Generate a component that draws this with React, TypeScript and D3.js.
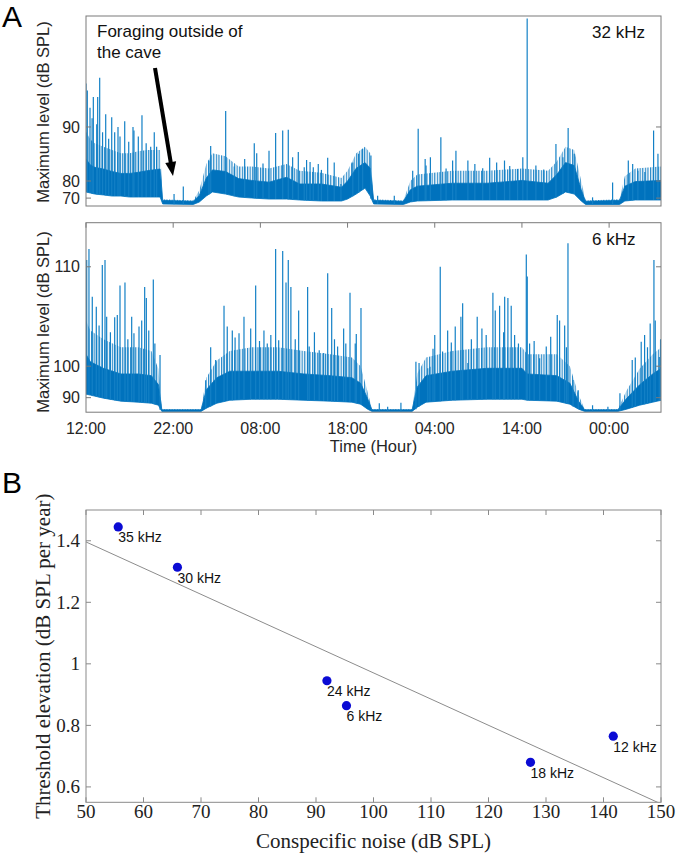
import React from "react";
import * as d3 from "d3";

// ---------- Panel A data (levels in dB SPL, time in hours since 12:00) ----------
const TIME_TICKS = [0, 10, 20, 30, 40, 50, 60];
const TIME_LABELS = ["12:00", "22:00", "08:00", "18:00", "04:00", "14:00", "00:00"];

const TOP_TICKS = [70, 80, 90];
const BOT_TICKS = [90, 100, 110];

// 32 kHz: dense core (floor / ceil) and fuzzy upper envelope
const topT = [0, 0.5, 1, 2, 3, 4, 5, 6, 7, 8.5, 8.8, 12.3, 13, 13.8, 14.5, 16, 17.5, 19, 21, 23, 24.5, 27, 29.3, 30, 31, 32, 32.6, 33, 36.4, 37.2, 38, 42, 46, 50, 53, 54, 55, 56, 56.8, 57.3, 61.2, 61.8, 63, 66];
const topFloor = [75.0, 74.3, 73.6, 72.9, 72.0, 72.0, 71.1, 71.1, 71.1, 71.1, 58.1, 55.6, 64.1, 72.0, 75.0, 73.6, 71.1, 70.1, 68.9, 68.9, 67.6, 66.0, 66.0, 68.9, 73.6, 77.1, 72.0, 58.1, 55.6, 64.1, 66.0, 67.6, 67.6, 67.6, 67.6, 71.1, 75.0, 73.6, 66.0, 55.6, 55.6, 66.0, 67.6, 67.6];
const topCeil = [85.5, 84.3, 83.8, 83.4, 82.8, 82.3, 82.3, 82.6, 83.0, 83.4, 67.0, 65.5, 72.5, 81.0, 83.2, 82.8, 80.8, 80.2, 79.6, 81.2, 78.9, 78.9, 77.5, 80.0, 83.6, 84.8, 83.6, 67.0, 65.5, 76.2, 78.0, 79.2, 79.2, 80.2, 79.2, 82.0, 84.8, 84.2, 76.2, 65.5, 67.0, 78.0, 79.8, 80.2];
const topFuzz = [89.5, 88.5, 88.0, 87.5, 87.0, 86.5, 86.5, 86.8, 87.0, 87.0, 68.5, 67.0, 76.0, 84.5, 86.5, 86.0, 84.0, 84.0, 83.5, 84.5, 83.0, 82.5, 81.0, 83.0, 86.5, 87.5, 86.5, 68.5, 67.0, 80.0, 82.0, 83.0, 83.0, 83.5, 83.0, 85.0, 87.5, 87.0, 80.0, 67.0, 68.5, 81.5, 83.5, 84.0];
// 32 kHz peaks
const topSpikeT = [0, 0.15, 0.46, 0.84, 1.23, 1.34, 1.57, 2.26, 2.95, 3.29, 3.67, 4.44, 5.39, 5.5, 6.42, 7.42, 7.83, 10.1, 11.16, 14.1, 14.3, 16.02, 19.3, 19.58, 20.99, 21.75, 22.56, 23.2, 23.7, 24.35, 25.03, 25.3, 26.07, 26.64, 27.72, 28.47, 29.24, 31.27, 31.73, 32.68, 33.45, 35.36, 37.47, 38.1, 38.9, 39.5, 40.7, 42.05, 42.43, 43.8, 46.3, 48.0, 48.6, 49.5, 50.1, 50.6, 53.9, 54.7, 55.3, 56.0, 58.1, 60.4, 62.2, 62.7, 63.3, 64.1, 65.1, 65.6,
  0.7, 1.9, 2.6, 3.9, 4.9, 6.0, 6.9, 8.1, 17.0, 18.2, 20.3, 25.7, 27.0, 30.6, 39.0, 41.3, 44.6, 45.5, 47.1, 51.6, 52.5];
const topSpikeDb = [93.8, 93.3, 91.9, 92.8, 90.3, 92.8, 94.2, 91.3, 91.0, 89.4, 90.0, 90.6, 90.0, 89.6, 91.2, 87.5, 89.4, 73.6, 77.8, 85.2, 87.6, 91.6, 88.0, 86.5, 86.9, 89.3, 89.6, 89.7, 85.8, 86.7, 83.8, 85.3, 83.8, 84.5, 85.7, 84.8, 78.9, 86.4, 87.2, 86.1, 72.3, 72.3, 83.0, 89.8, 85.5, 85.8, 88.8, 85.2, 86.9, 85.2, 85.7, 85.2, 84.1, 83.4, 85.8, 97.5, 87.9, 85.8, 89.9, 86.4, 70.8, 79.5, 85.2, 84.5, 83.0, 82.7, 89.6, 86.4,
  90.9, 89.4, 88.6, 88.9, 88.2, 88.9, 88.0, 87.5, 84.0, 85.5, 84.6, 84.9, 83.2, 84.8, 84.2, 83.5, 84.5, 83.6, 84.8, 84.2, 83.3];

// 6 kHz: dense core and fuzzy upper envelope
const botT = [0, 0.5, 2, 4, 6, 7.5, 8.3, 8.7, 13.2, 13.8, 15, 16.5, 19, 22, 25, 28, 30.5, 31.5, 32.3, 32.8, 37.4, 38, 39, 42, 46, 50, 50.6, 54, 55.5, 56.5, 57.2, 61, 62, 63.5, 65, 66];
const botFloor = [91.9, 91.4, 89.7, 87.6, 86.75, 85.8, 83.65, 64.8, 64.8, 78.8, 85.8, 88.3, 89.0, 89.0, 88.3, 87.6, 86.75, 84.8, 76.3, 64.8, 64.8, 80.7, 86.75, 88.3, 89.0, 89.0, 88.3, 87.6, 84.8, 76.3, 64.8, 64.8, 76.3, 83.65, 86.75, 88.3];
const botCeil = [102.0, 100.8, 99.6, 98.4, 98.4, 98.0, 95.6, 74.2, 74.2, 93.8, 97.5, 99.0, 99.0, 99.0, 98.4, 98.0, 97.5, 96.0, 89.5, 74.2, 74.2, 94.8, 98.0, 99.0, 99.6, 99.6, 98.4, 98.0, 96.0, 87.5, 74.2, 74.2, 89.5, 95.5, 98.4, 99.6];
const botFuzz = [106.0, 105.0, 104.0, 103.0, 103.0, 102.5, 99.5, 76.0, 76.0, 97.5, 101.0, 102.5, 103.0, 103.0, 102.5, 102.0, 101.5, 100.0, 93.0, 76.0, 76.0, 98.5, 101.5, 102.5, 103.0, 103.0, 102.0, 102.0, 100.0, 91.5, 76.0, 76.0, 93.5, 99.5, 102.0, 103.0];
// 6 kHz peaks
const botSpikeT = [0.08, 0.34, 0.72, 1.18, 1.87, 2.18, 2.37, 3.29, 3.59, 3.9, 4.47, 5.24, 5.5, 6.08, 6.39, 6.73, 6.92, 7.72, 8.49, 13.73, 14.87, 15.83, 16.2, 16.78, 17.55, 18.12, 18.89, 19.46, 20.41, 20.79, 21.75, 22.1, 22.56, 22.94, 23.2, 23.5, 24.39, 25.42, 25.6, 26.75, 27.26, 27.72, 28.18, 28.86, 29.55, 29.8, 30.28, 30.88, 31.54, 33.64, 34.6, 36.12, 37.84, 38.2, 39.2, 39.45, 40.0, 40.63, 40.9, 41.48, 42.35, 43.0, 43.2, 43.8, 44.87, 45.41, 46.67, 46.94, 47.44, 48.02, 48.39, 48.77, 49.16, 50.5, 50.61, 50.88, 52.03, 52.79, 54.05, 54.32, 54.9, 55.28, 55.86, 56.46, 58.1, 59.86, 61.24, 62.65, 63.68, 64.07, 64.71, 65.14, 65.29, 65.75,
  1.5, 2.8, 4.8, 7.2, 7.9, 14.3, 17.1, 19.9, 21.2, 24.0, 26.2, 28.5, 31.0, 39.8, 41.9, 44.2, 45.9, 47.9, 49.6, 51.4, 53.3, 55.1, 63.0, 64.4, 65.9];
const botSpikeDb = [110.4, 111.0, 108.0, 107.2, 110.1, 110.4, 106.35, 106.3, 106.5, 108.8, 109.0, 106.35, 104.7, 105.4, 106.0, 108.7, 107.9, 109.2, 101.9, 96.85, 101.1, 107.3, 105.4, 105.0, 104.7, 106.35, 105.2, 108.8, 105.0, 103.5, 111.0, 103.9, 110.9, 109.0, 110.4, 108.7, 106.9, 108.7, 103.1, 102.6, 102.2, 109.6, 107.1, 103.1, 105.2, 103.5, 108.3, 103.5, 107.1, 85.8, 81.6, 86.3, 100.8, 100.6, 99.6, 99.9, 104.5, 110.0, 102.4, 105.0, 105.4, 106.35, 107.5, 100.6, 106.35, 105.2, 108.3, 106.9, 107.3, 108.0, 107.9, 107.3, 104.5, 110.7, 109.4, 103.5, 101.4, 103.1, 106.5, 106.0, 105.5, 111.3, 96.9, 93.6, 83.65, 81.6, 92.3, 101.1, 103.7, 104.5, 105.7, 110.4, 106.0, 101.6,
  105.5, 104.8, 104.0, 105.0, 103.5, 103.0, 104.2, 103.8, 104.5, 104.0, 104.8, 104.0, 104.6, 102.8, 103.6, 104.0, 104.5, 104.8, 103.5, 103.8, 104.3, 103.0, 101.5, 103.0, 104.0];

// ---------- Panel B data ----------
const noiseDb = [55.6, 65.9, 91.9, 95.3, 127.3, 141.7];
const elevation = [1.445, 1.314, 0.945, 0.864, 0.68, 0.765];
const freqLabels = ["35 kHz", "30 kHz", "24 kHz", "6 kHz", "18 kHz", "12 kHz"];
const B_X_TICKS = [50, 60, 70, 80, 90, 100, 110, 120, 130, 140, 150];
const B_Y_TICKS = [0.6, 0.8, 1, 1.2, 1.4];

const SANS = "'Liberation Sans', Arial, Helvetica, sans-serif";
const SERIF = "'Liberation Serif', 'Times New Roman', Times, serif";
const LINE = "#0072BD";
const FRAME = "#7a7a7a";

const dbToP = (db: number) => Math.pow(10, db / 20);

const L = 86, R = 661;
const xTime = d3.scaleLinear().domain([0, 65.95]).range([L, R]);

type PanelProps = {
  id: string; top: number; bottom: number; maxDb: number;
  T: number[]; floor: number[]; ceil: number[]; fuzz: number[];
  spT: number[]; spDb: number[]; yTicks: number[];
  topTicks: boolean; showX: boolean; tag: string; tagY: number; titleY: number;
};

function LevelPanel(p: PanelProps) {
  const y = d3.scaleLinear().domain([0, dbToP(p.maxDb)]).range([p.bottom, p.top]);
  const idx = d3.range(p.T.length);
  const core = d3.area<number>()
    .x(i => xTime(p.T[i]))
    .y0(i => y(dbToP(p.floor[i])))
    .y1(i => y(dbToP(p.ceil[i])));
  const fuzz = d3.area<number>()
    .x(i => xTime(p.T[i]))
    .y0(i => y(dbToP(p.ceil[i])) + 1)
    .y1(i => y(dbToP(p.fuzz[i])));
  const floorAt = d3.scaleLinear().domain(p.T).range(p.floor).clamp(true);
  const tl = 5;
  return (
    <g>
      <defs>
        <clipPath id={p.id}>
          <rect x={L} y={p.top} width={R - L} height={p.bottom - p.top} />
        </clipPath>
        <pattern id={p.id + "-hatch"} width={2.6} height={6} patternUnits="userSpaceOnUse">
          <rect x={0} y={0} width={1.2} height={6} fill={LINE} />
        </pattern>
      </defs>
      <g clipPath={`url(#${p.id})`}>
        <path d={fuzz(idx) || ""} fill={`url(#${p.id}-hatch)`} opacity={0.85} />
        <path d={core(idx) || ""} fill={LINE} stroke={LINE} strokeWidth={0.8} />
        {p.spT.map((t, i) => (
          <line key={i} x1={xTime(t)} x2={xTime(t)}
            y1={y(dbToP(floorAt(t)))} y2={y(dbToP(p.spDb[i]))}
            stroke="#1380c6" strokeWidth={1.2} />
        ))}
      </g>
      <rect x={L} y={p.top} width={R - L} height={p.bottom - p.top} fill="none" stroke={FRAME} strokeWidth={1} />
      {p.yTicks.map(v => (
        <g key={v}>
          <line x1={L} x2={L + tl} y1={y(dbToP(v))} y2={y(dbToP(v))} stroke={FRAME} />
          <line x1={R - tl} x2={R} y1={y(dbToP(v))} y2={y(dbToP(v))} stroke={FRAME} />
          <text x={80} y={y(dbToP(v))} dy="0.35em" textAnchor="end" fontFamily={SANS} fontSize={16} fill="#262626">{v}</text>
        </g>
      ))}
      {TIME_TICKS.map((t, i) => (
        <g key={t}>
          {p.topTicks && <line x1={xTime(t)} x2={xTime(t)} y1={p.top} y2={p.top + tl} stroke={FRAME} />}
          {p.showX && (
            <text x={xTime(t)} y={434} textAnchor="middle" fontFamily={SANS} fontSize={16} fill="#262626">{TIME_LABELS[i]}</text>
          )}
        </g>
      ))}
      <text transform={`translate(49,${p.titleY}) rotate(-90)`} textAnchor="middle" fontFamily={SANS} fontSize={16.5} fill="#262626">
        Maximum level (dB SPL)
      </text>
      <text x={592} y={p.tagY} fontFamily={SANS} fontSize={17} fill="#111">{p.tag}</text>
    </g>
  );
}

function Arrow() {
  const x0 = 155, y0 = 68, x1 = 173, y1 = 176;
  const len = Math.hypot(x1 - x0, y1 - y0);
  const ux = (x1 - x0) / len, uy = (y1 - y0) / len;
  const hl = 14, hw = 5.5;
  const bx = x1 - ux * hl, by = y1 - uy * hl;
  const pts = [[x1, y1], [bx + uy * hw, by - ux * hw], [bx - uy * hw, by + ux * hw]];
  return (
    <g>
      <line x1={x0} y1={y0} x2={bx + ux * 2} y2={by + uy * 2} stroke="#000" strokeWidth={4} />
      <polygon points={pts.map(q => q.join(",")).join(" ")} fill="#000" />
    </g>
  );
}

function PanelB() {
  const x = d3.scaleLinear().domain([50, 150]).range([L, R]);
  const y = d3.scaleLinear().domain([0.55, 1.5]).range([802.3, 510]);
  const top = 510, bottom = 802.3;
  const mx = d3.mean(noiseDb)!, my = d3.mean(elevation)!;
  const sxy = d3.sum(noiseDb.map((v, i) => (v - mx) * (elevation[i] - my)));
  const sxx = d3.sum(noiseDb.map(v => (v - mx) ** 2));
  const slope = sxy / sxx, icpt = my - slope * mx;
  const fit = (v: number) => icpt + slope * v;
  const tl = 5;
  return (
    <g>
      <defs>
        <clipPath id="clipB"><rect x={L} y={top} width={R - L} height={bottom - top} /></clipPath>
      </defs>
      <rect x={L} y={top} width={R - L} height={bottom - top} fill="none" stroke="#8a8a8a" strokeWidth={1} />
      <line clipPath="url(#clipB)" x1={x(50)} y1={y(fit(50))} x2={x(150)} y2={y(fit(150))} stroke="#8c8c8c" strokeWidth={1} />
      {B_X_TICKS.map(v => (
        <g key={v}>
          <line x1={x(v)} x2={x(v)} y1={bottom} y2={bottom - tl} stroke="#8a8a8a" />
          <line x1={x(v)} x2={x(v)} y1={top} y2={top + tl} stroke="#8a8a8a" />
          <text x={x(v)} y={818} textAnchor="middle" fontFamily={SERIF} fontSize={19} fill="#222">{v}</text>
        </g>
      ))}
      {B_Y_TICKS.map(v => (
        <g key={v}>
          <line x1={L} x2={L + tl} y1={y(v)} y2={y(v)} stroke="#8a8a8a" />
          <line x1={R - tl} x2={R} y1={y(v)} y2={y(v)} stroke="#8a8a8a" />
          <text x={80} y={y(v)} dy="0.33em" textAnchor="end" fontFamily={SERIF} fontSize={19} fill="#222">{String(v)}</text>
        </g>
      ))}
      {noiseDb.map((v, i) => (
        <g key={i}>
          <circle cx={x(v)} cy={y(elevation[i])} r={4.6} fill="#0b0bd4" />
          <text x={x(v)} y={y(elevation[i]) + 15.5} fontFamily={SANS} fontSize={14} fill="#111">{freqLabels[i]}</text>
        </g>
      ))}
      <text x={(L + R) / 2} y={848} textAnchor="middle" fontFamily={SERIF} fontSize={21} fill="#222">Conspecific noise (dB SPL)</text>
      <text transform={`translate(50,${(top + bottom) / 2}) rotate(-90)`} textAnchor="middle" fontFamily={SERIF} fontSize={21} fill="#222">
        Threshold elevation (dB SPL per year)
      </text>
    </g>
  );
}

export default function App() {
  return (
    <svg width={677} height={855} viewBox="0 0 677 855"
      style={{ position: "absolute", left: 0, top: 0, display: "block", background: "#fff" }}>
      <rect x={0} y={0} width={677} height={855} fill="#fff" />
      <LevelPanel id="clipTop" top={16} bottom={206} maxDb={97.62}
        T={topT} floor={topFloor} ceil={topCeil} fuzz={topFuzz} spT={topSpikeT} spDb={topSpikeDb}
        yTicks={TOP_TICKS} topTicks={false} showX={false} tag="32 kHz" tagY={38} titleY={112} />
      <LevelPanel id="clipBot" top={222.7} bottom={412.2} maxDb={112.3}
        T={botT} floor={botFloor} ceil={botCeil} fuzz={botFuzz} spT={botSpikeT} spDb={botSpikeDb}
        yTicks={BOT_TICKS} topTicks={true} showX={true} tag="6 kHz" tagY={245} titleY={322} />
      <text x={(L + R) / 2} y={452} textAnchor="middle" fontFamily={SANS} fontSize={16.5} fill="#262626">Time (Hour)</text>
      <text x={97} y={37} fontFamily={SANS} fontSize={17} fill="#111">Foraging outside of</text>
      <text x={97} y={58} fontFamily={SANS} fontSize={17} fill="#111">the cave</text>
      <Arrow />
      <text x={2} y={27} fontFamily={SANS} fontSize={30} fill="#000">A</text>
      <text x={2} y={493} fontFamily={SANS} fontSize={30} fill="#000">B</text>
      <PanelB />
    </svg>
  );
}
